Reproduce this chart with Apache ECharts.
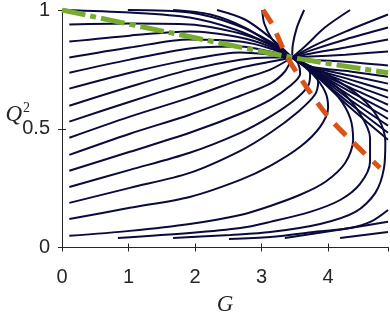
<!DOCTYPE html>
<html><head><meta charset="utf-8">
<script src="https://cdn.jsdelivr.net/npm/echarts/dist/echarts.min.js"></script>
<style>html,body{margin:0;padding:0;background:#fff}#c{width:390px;height:312px}</style>
</head><body><div id="c"></div>
<script>
const xTicks = [0, 1, 2, 3, 4];
const yTicks = [0, 0.5, 1];
const fixedPoint = [3.46, 0.80];

const topCurves = [
  [[0,1.0],[1.02,0.989],[1.92,0.968],[2.60,0.918],[3.13,0.854],[3.46,0.80]],
  [[0.99,1.0],[1.92,0.989],[2.60,0.939],[3.13,0.867],[3.46,0.80]],
  [[1.67,1.0],[2.23,0.981],[2.75,0.926],[3.16,0.854],[3.46,0.80]],
  [[2.33,1.0],[2.75,0.96],[3.13,0.884],[3.46,0.80]],
  [[3.01,1.0],[3.04,0.943],[3.16,0.876],[3.31,0.833],[3.46,0.80]],
  [[3.64,1.0],[3.53,0.926],[3.47,0.854],[3.46,0.80]],
  [[4.33,1.0],[3.95,0.926],[3.65,0.846],[3.46,0.80]]
];

const rightCurves = [
  [[4.9,0.981],[4.26,0.909],[3.73,0.842],[3.46,0.80]],
  [[4.9,0.926],[4.26,0.876],[3.73,0.829],[3.46,0.80]],
  [[4.9,0.876],[4.26,0.842],[3.73,0.816],[3.46,0.80]],
  [[4.9,0.825],[4.26,0.812],[3.73,0.804],[3.46,0.80]],
  [[4.9,0.766],[4.26,0.782],[3.73,0.791],[3.46,0.80]]
];

const bundleCurves = [
  [[3.46,0.80],[3.73,0.762],[4.33,0.741],[4.9,0.719]],
  [[3.46,0.80],[3.73,0.762],[4.33,0.724],[4.9,0.690]],
  [[3.46,0.80],[3.73,0.757],[4.33,0.707],[4.9,0.660]],
  [[3.46,0.80],[3.73,0.757],[4.33,0.690],[4.9,0.631]],
  [[3.46,0.80],[3.73,0.753],[4.33,0.673],[4.9,0.601]],
  [[3.46,0.80],[3.73,0.753],[4.33,0.656],[4.9,0.572]],
  [[3.46,0.80],[3.73,0.749],[4.33,0.639],[4.9,0.542]],
  [[3.46,0.80],[3.73,0.749],[4.33,0.622],[4.9,0.513]],
  [[3.46,0.80],[3.73,0.745],[4.33,0.605],[4.9,0.483]],
  [[3.46,0.80],[3.73,0.745],[4.33,0.589],[4.9,0.454]]
];

const leftCurves = [
  [[0.11,0.939],[1.02,0.943],[1.92,0.939],[2.68,0.901],[3.13,0.854],[3.46,0.80]],
  [[0.11,0.867],[1.02,0.892],[1.92,0.909],[2.68,0.884],[3.13,0.846],[3.46,0.80]],
  [[0.11,0.80],[1.02,0.842],[1.92,0.876],[2.68,0.867],[3.13,0.838],[3.46,0.80]],
  [[0.11,0.736],[1.02,0.791],[1.92,0.838],[2.68,0.846],[3.13,0.825],[3.46,0.80]],
  [[0.11,0.669],[1.02,0.736],[1.92,0.791],[2.68,0.821],[3.13,0.812],[3.46,0.80]],
  [[0.11,0.597],[1.02,0.677],[1.92,0.749],[2.68,0.791],[3.13,0.80],[3.46,0.80]],
  [[0.11,0.53],[1.02,0.614],[1.92,0.694],[2.68,0.757],[3.13,0.782],[3.46,0.80]],
  [[0.11,0.462],[1.02,0.551],[1.92,0.631],[2.68,0.707],[3.13,0.749],[3.46,0.80]],
  [[0.11,0.39],[1.02,0.479],[1.92,0.559],[2.68,0.639],[3.13,0.69],[3.35,0.741],[3.46,0.80]],
  [[0.11,0.323],[1.02,0.403],[1.92,0.483],[2.68,0.563],[3.13,0.622],[3.43,0.681],[3.58,0.732],[3.55,0.774],[3.46,0.80]],
  [[0.11,0.255],[1.02,0.327],[1.92,0.399],[2.68,0.483],[3.13,0.551],[3.50,0.622],[3.70,0.681],[3.73,0.732],[3.62,0.774],[3.46,0.80]],
  [[0.11,0.188],[1.02,0.251],[1.92,0.314],[2.68,0.407],[3.13,0.483],[3.55,0.572],[3.80,0.643],[3.85,0.698],[3.73,0.757],[3.46,0.80]],
  [[0.11,0.12],[1.02,0.167],[1.92,0.213],[2.68,0.285],[3.13,0.344],[3.58,0.424],[3.88,0.508],[4.0,0.589],[3.955,0.656],[3.76,0.732],[3.46,0.80]],
  [[0.11,0.049],[1.02,0.07],[1.92,0.099],[2.68,0.137],[3.13,0.175],[3.58,0.222],[3.955,0.276],[4.256,0.356],[4.376,0.453],[4.331,0.546],[4.15,0.635],[3.85,0.723],[3.46,0.80]]
];

const bottomCurves = [
  [[0.84,0.04],[1.92,0.061],[2.68,0.082],[3.13,0.108],[3.73,0.15],[4.18,0.20],[4.48,0.268],[4.63,0.361],[4.63,0.462],[4.48,0.563],[4.21,0.656],[3.85,0.736],[3.46,0.80]],
  [[1.67,0.04],[2.53,0.053],[3.13,0.065],[3.88,0.099],[4.41,0.15],[4.71,0.23],[4.84,0.335],[4.86,0.445],[4.75,0.546],[4.48,0.635],[4.06,0.715],[3.46,0.80]],
  [[2.51,0.036],[3.13,0.044],[3.88,0.068],[4.33,0.082],[4.65,0.11],[4.9,0.158]],
  [[3.35,0.04],[4.14,0.074],[4.9,0.108]],
  [[4.18,0.04],[4.9,0.065]]
];

const greenLine = [[0,1.0],[1.62,0.905],[3.46,0.80],[4.9,0.736]];
const orangeLine = [[3.02,1.0],[3.16,0.939],[3.38,0.804],[3.68,0.673],[4.0,0.551],[4.38,0.441],[4.78,0.335]];

const navy = '#0a0a3c';
const axisColor = '#262626';
const series = [];
[topCurves, rightCurves, bundleCurves, leftCurves, bottomCurves].forEach(group => {
  group.forEach(c => series.push({
    type: 'line', data: c, showSymbol: false, smooth: 0.3, silent: true, z: 2,
    lineStyle: { color: navy, width: 2 }
  }));
});
series.push({
  type: 'line', data: greenLine, showSymbol: false, smooth: 0.3, silent: true, z: 5,
  lineStyle: { color: '#77AC30', width: 5, type: [24, 5, 6, 5], cap: 'butt' }
});
series.push({
  type: 'line', data: orangeLine, showSymbol: false, smooth: 0.3, silent: true, z: 6,
  lineStyle: { color: '#D95319', width: 5, type: [16, 11], cap: 'butt' }
});

const labelFont = { fontFamily: 'Liberation Sans', fontSize: 20, color: axisColor };
const chart = echarts.init(document.getElementById('c'));
chart.setOption({
  animation: false,
  backgroundColor: '#fff',
  grid: { left: 62, right: 2, top: 10, bottom: 64.5, containLabel: false, outerBoundsMode: 'none' },
  xAxis: [
    { type: 'value', min: 0, max: 4.9, interval: 1,
      name: 'G', nameLocation: 'middle', nameGap: 46, nameMoveOverlap: false,
      nameTextStyle: { fontFamily: 'Liberation Serif', fontStyle: 'italic', fontSize: 23, color: axisColor },
      axisLine: { lineStyle: { color: axisColor, width: 1 } },
      axisTick: { inside: true, length: 4, lineStyle: { color: axisColor } },
      axisLabel: Object.assign({ margin: 20, showMaxLabel: false,
        formatter: v => (xTicks.indexOf(v) >= 0 ? String(v) : '') }, labelFont),
      splitLine: { show: false } },
    { type: 'value', position: 'top', min: 0, max: 4.9, interval: 1,
      axisLine: { lineStyle: { color: axisColor, width: 1 } },
      axisTick: { inside: true, length: 4, lineStyle: { color: axisColor } },
      axisLabel: { show: false }, splitLine: { show: false } }
  ],
  yAxis: [
    { type: 'value', min: 0, max: 1, interval: 0.5,
      name: '{q|Q}{s|2}', nameLocation: 'middle', nameRotate: 0, nameGap: 32, nameMoveOverlap: false,
      nameTextStyle: { padding: [0, 0, 28, 0],
        rich: { q: { fontFamily: 'Liberation Serif', fontStyle: 'italic', fontSize: 23, color: axisColor },
                s: { fontFamily: 'Liberation Serif', fontSize: 14, color: axisColor, verticalAlign: 'top', padding: [0, 0, 12, 1] } } },
      axisLine: { show: true, lineStyle: { color: axisColor, width: 1 } },
      axisTick: { show: true, inside: true, length: 4, lineStyle: { color: axisColor } },
      axisLabel: Object.assign({ margin: 12,
        formatter: v => (v === 1 ? '1' : v === 0.5 ? '0.5' : v === 0 ? '0' : '') }, labelFont),
      splitLine: { show: false } },
    { type: 'value', position: 'right', min: 0, max: 1, interval: 0.5,
      axisLine: { show: true, lineStyle: { color: axisColor, width: 1 } },
      axisTick: { show: true, inside: true, length: 4, lineStyle: { color: axisColor } },
      axisLabel: { show: false }, splitLine: { show: false } }
  ],
  series: series
});
</script>
</body></html>
